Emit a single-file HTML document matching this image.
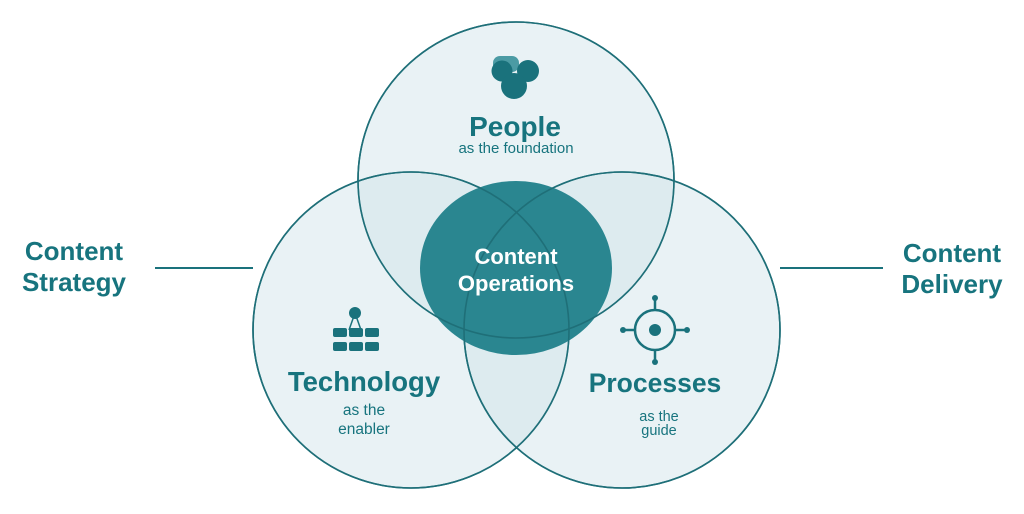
<!DOCTYPE html>
<html><head><meta charset="utf-8"><style>
html,body{margin:0;padding:0;background:#fff;width:1024px;height:514px;overflow:hidden}
text{font-family:"Liberation Sans",Arial,sans-serif}
</style></head><body>
<svg width="1024" height="514" viewBox="0 0 1024 514" xmlns="http://www.w3.org/2000/svg">
<g fill="#cfe3e8" fill-opacity="0.45" stroke="#1f7580" stroke-width="1.6">
<circle cx="516" cy="180" r="158"/>
<circle cx="411" cy="330" r="158"/>
<circle cx="622" cy="330" r="158"/>
</g>
<ellipse cx="516" cy="268" rx="96" ry="87" fill="#2a8690"/>
<g fill="none" stroke="#1f6f78" stroke-width="1.6">
<circle cx="516" cy="180" r="158"/>
<circle cx="411" cy="330" r="158"/>
<circle cx="622" cy="330" r="158"/>
</g>
<!-- people icon -->
<rect x="493" y="56" width="26" height="16" rx="7" fill="#4b9ba4"/>
<g fill="#1a727c">
<circle cx="502" cy="71" r="10.5"/>
<circle cx="528" cy="71" r="11"/>
<circle cx="514" cy="86" r="13"/>
</g>
<!-- tech icon -->
<g fill="#1a727c">
<circle cx="355" cy="313" r="6"/>
<line x1="355" y1="313" x2="349" y2="330" stroke="#1a727c" stroke-width="1.5"/>
<line x1="355" y1="313" x2="361" y2="330" stroke="#1a727c" stroke-width="1.5"/>
<rect x="333" y="328" width="14" height="9" rx="2"/><rect x="349" y="328" width="14" height="9" rx="2"/><rect x="365" y="328" width="14" height="9" rx="2"/>
<rect x="333" y="342" width="14" height="9" rx="2"/><rect x="349" y="342" width="14" height="9" rx="2"/><rect x="365" y="342" width="14" height="9" rx="2"/>
</g>
<!-- process icon -->
<g stroke="#1a727c" stroke-width="2.5" fill="none">
<circle cx="655" cy="330" r="20"/>
<line x1="655" y1="300" x2="655" y2="310"/><line x1="655" y1="350" x2="655" y2="360"/>
<line x1="624" y1="330" x2="635" y2="330"/><line x1="675" y1="330" x2="686" y2="330"/>
</g>
<g fill="#1a727c">
<circle cx="655" cy="330" r="6"/><circle cx="655" cy="298" r="3"/><circle cx="655" cy="362" r="3"/>
<circle cx="623" cy="330" r="3"/><circle cx="687" cy="330" r="3"/>
</g>
<g fill="#17747e" text-anchor="middle">
<text x="515" y="136" font-size="28" font-weight="bold">People</text>
<text x="516" y="153" font-size="15">as the foundation</text>
<text x="364" y="391" font-size="27.5" font-weight="bold">Technology</text>
<text x="364" y="415" font-size="15.5">as the</text>
<text x="364" y="434" font-size="15.5">enabler</text>
<text x="655" y="392" font-size="26.5" font-weight="bold">Processes</text>
<text x="659" y="421" font-size="14.5">as the</text>
<text x="659" y="435" font-size="14.5">guide</text>
<text x="74" y="260" font-size="26" font-weight="bold">Content</text>
<text x="74" y="291" font-size="26" font-weight="bold">Strategy</text>
<text x="952" y="262" font-size="26" font-weight="bold">Content</text>
<text x="952" y="293" font-size="26" font-weight="bold">Delivery</text>
</g>
<g fill="#fff" text-anchor="middle" font-weight="bold" font-size="22">
<text x="516" y="264">Content</text>
<text x="516" y="291">Operations</text>
</g>
<g stroke="#1a727c" stroke-width="2">
<line x1="155" y1="268" x2="253" y2="268"/>
<line x1="780" y1="268" x2="883" y2="268"/>
</g>
</svg>
</body></html>
